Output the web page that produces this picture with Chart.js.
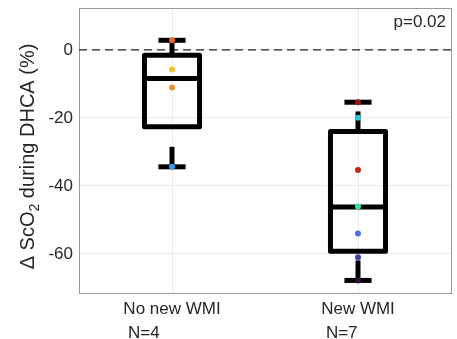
<!DOCTYPE html>
<html>
<head>
<meta charset="utf-8">
<script src="https://cdn.jsdelivr.net/npm/chart.js@4.4.1/dist/chart.umd.min.js"></script>
<style>
  html, body { margin: 0; padding: 0; background: #fff; }
  #wrap { width: 457px; height: 339px; }
</style>
</head>
<body>
<div id="wrap"><canvas id="boxChart" width="457" height="339"></canvas></div>
<script>
// values
const groupLabels = ["No new WMI", "New WMI"];
const groupCounts = ["N=4", "N=7"];

const whiskerLow = [-34.4, -67.8];
const quartile1 = [-22.6, -59.2];
const medians = [-8.4, -46.2];
const quartile3 = [-1.6, -24.0];
const whiskerHigh = [2.8, -15.4];

const noWmiValues = [2.8, -5.8, -11.1, -34.4];
const noWmiColors = ["#f26a1e", "#f8c12f", "#f98f2a", "#2e9af2"];
const newWmiValues = [-15.4, -20.0, -35.3, -46.1, -54.0, -61.0, -67.8];
const newWmiColors = ["#9a1a0b", "#27c7e0", "#c4270e", "#2fe5a0", "#4870ee", "#3e3fa8", "#30123b"];

const yTicks = [-60, -40, -20, 0];
const yMin = -71.5;
const yMax = 12.3;
const refValue = 0;
const pText = "p=0.02";

const FONT_FAMILY = "'Liberation Sans', Arial, Helvetica, sans-serif";
const TEXT_COLOR = "#262626";
const BOX_HALF = 0.148;
const CAP_HALF = 0.073;

Chart.defaults.font.family = FONT_FAMILY;
Chart.defaults.font.size = 17;
Chart.defaults.color = TEXT_COLOR;

const datasets = [];

// scattered patients on top
datasets.push({
  data: noWmiValues.map(v => ({ x: 1, y: v })),
  pointBackgroundColor: noWmiColors,
  pointRadius: 3,
  pointBorderWidth: 0,
  showLine: false,
  order: 0
});
datasets.push({
  data: newWmiValues.map(v => ({ x: 2, y: v })),
  pointBackgroundColor: newWmiColors,
  pointRadius: 3,
  pointBorderWidth: 0,
  showLine: false,
  order: 0
});

// box plots
groupLabels.forEach((g, i) => {
  const x = i + 1;
  const base = {
    showLine: true,
    pointRadius: 0,
    borderColor: "#000",
    borderWidth: 5,
    fill: false,
    order: 1
  };
  datasets.push({
    ...base,
    borderJoinStyle: "round",
    data: [
      { x: x, y: quartile1[i] },
      { x: x + BOX_HALF, y: quartile1[i] },
      { x: x + BOX_HALF, y: quartile3[i] },
      { x: x - BOX_HALF, y: quartile3[i] },
      { x: x - BOX_HALF, y: quartile1[i] },
      { x: x, y: quartile1[i] }
    ]
  });
  datasets.push({
    ...base,
    data: [{ x: x - BOX_HALF, y: medians[i] }, { x: x + BOX_HALF, y: medians[i] }]
  });
  // whiskers are dashed, drawn upward
  datasets.push({
    ...base,
    borderDash: [20, 20],
    data: [{ x: x, y: whiskerLow[i] }, { x: x, y: quartile1[i] }]
  });
  datasets.push({
    ...base,
    borderDash: [20, 20],
    data: [{ x: x, y: quartile3[i] }, { x: x, y: whiskerHigh[i] }]
  });
  datasets.push({
    ...base,
    data: [{ x: x - CAP_HALF, y: whiskerLow[i] }, { x: x + CAP_HALF, y: whiskerLow[i] }]
  });
  datasets.push({
    ...base,
    data: [{ x: x - CAP_HALF, y: whiskerHigh[i] }, { x: x + CAP_HALF, y: whiskerHigh[i] }]
  });
});

// zero reference line
datasets.push({
  data: [{ x: 0.5, y: refValue }, { x: 2.5, y: refValue }],
  showLine: true,
  pointRadius: 0,
  borderColor: "#222",
  borderWidth: 1.2,
  borderDash: [8, 5],
  order: 2
});

const extraText = {
  id: "extraText",
  afterDraw(chart) {
    const { ctx, chartArea, scales } = chart;
    ctx.save();
    ctx.fillStyle = TEXT_COLOR;
    ctx.font = "17px " + FONT_FAMILY;

    // N counts under the group names
    ctx.textAlign = "left";
    ctx.textBaseline = "middle";
    const space = ctx.measureText(" ").width;
    groupCounts.forEach((c, i) => {
      const px = scales.x.getPixelForValue(i + 1);
      const w = ctx.measureText(groupLabels[i]).width;
      ctx.fillText(c, px - w / 2 + space, chartArea.bottom + 40);
    });

    // p value
    ctx.textAlign = "right";
    ctx.textBaseline = "alphabetic";
    ctx.fillText(pText, chartArea.right - 5, chartArea.top + 19);

    // y title with subscript
    const parts = [
      { t: "\u0394 ScO", size: 20, dy: 0 },
      { t: "2", size: 14, dy: 5 },
      { t: " during DHCA (%)", size: 20, dy: 0 }
    ];
    let total = 0;
    parts.forEach(p => {
      ctx.font = p.size + "px " + FONT_FAMILY;
      p.w = ctx.measureText(p.t).width;
      total += p.w;
    });
    ctx.translate(34, (chartArea.top + chartArea.bottom) / 2 + 6);
    ctx.rotate(-Math.PI / 2);
    ctx.textAlign = "left";
    let cx = -total / 2;
    parts.forEach(p => {
      ctx.font = p.size + "px " + FONT_FAMILY;
      ctx.fillText(p.t, cx, p.dy);
      cx += p.w;
    });
    ctx.restore();
  }
};

new Chart(document.getElementById("boxChart"), {
  type: "scatter",
  data: { datasets: datasets },
  options: {
    responsive: false,
    animation: false,
    layout: { padding: { top: 8, right: 6, left: 0, bottom: 0 } },
    plugins: {
      legend: { display: false },
      tooltip: { enabled: false }
    },
    scales: {
      x: {
        type: "linear",
        position: "bottom",
        min: 0.5,
        max: 2.5,
        afterBuildTicks: s => { s.ticks = groupLabels.map((g, i) => ({ value: i + 1 })); },
        afterFit: s => { s.height = 46; s.paddingLeft = 0; s.paddingRight = 0; },
        ticks: {
          padding: 6,
          maxRotation: 0,
          callback: v => groupLabels[v - 1]
        },
        grid: { color: "#ebebeb", drawTicks: false },
        border: { color: "#9a9a9a", width: 1 }
      },
      y: {
        min: yMin,
        max: yMax,
        afterBuildTicks: s => { s.ticks = yTicks.map(v => ({ value: v })); },
        afterFit: s => { s.width = 79; s.paddingTop = 0; s.paddingBottom = 0; },
        ticks: { padding: 6 },
        grid: { color: "#ebebeb", drawTicks: false },
        border: { color: "#9a9a9a", width: 1 }
      },
      xTop: {
        type: "linear",
        position: "top",
        min: 0.5,
        max: 2.5,
        afterFit: s => { s.height = 0; s.paddingLeft = 0; s.paddingRight = 0; },
        ticks: { display: false },
        grid: { display: false },
        border: { color: "#9a9a9a", width: 1 }
      },
      yRight: {
        position: "right",
        min: yMin,
        max: yMax,
        afterFit: s => { s.width = 0; s.paddingTop = 0; s.paddingBottom = 0; },
        ticks: { display: false },
        grid: { display: false },
        border: { color: "#9a9a9a", width: 1 }
      }
    }
  },
  plugins: [extraText]
});
</script>
</body>
</html>
